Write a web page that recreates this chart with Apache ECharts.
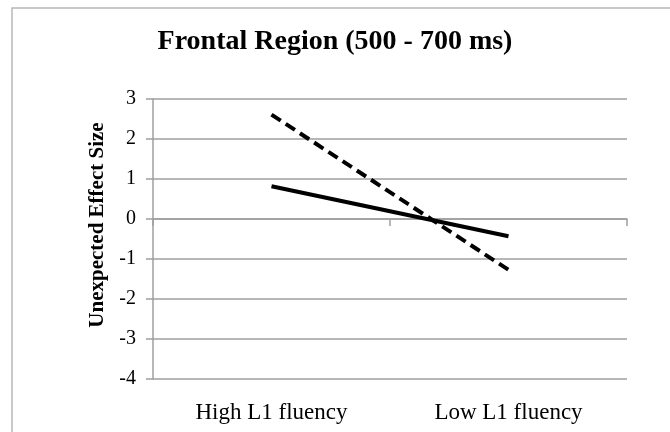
<!DOCTYPE html>
<html>
<head>
<meta charset="utf-8">
<script src="https://cdn.jsdelivr.net/npm/echarts@6/dist/echarts.min.js"></script>
<style>
  html, body { margin: 0; padding: 0; background: #fff; }
  #main { width: 670px; height: 432px; }
</style>
</head>
<body>
<div id="main"></div>
<script>
var categories = ["High L1 fluency", "Low L1 fluency"];
var dashedValues = [2.61, -1.27];
var solidValues = [0.82, -0.43];
var yTicks = { min: -4, max: 3, interval: 1 };

var myChart = echarts.init(document.getElementById("main"));
var gray = "#9f9f9f";
var serif = "Liberation Serif";

var option = {
  backgroundColor: "#fff",
  animation: false,
  // outer chart frame
  graphic: [
    {
      type: "rect",
      shape: { x: 12, y: 8, width: 700, height: 500 },
      style: { fill: "none", stroke: "#b8b8b8", lineWidth: 1.5 }
    }
  ],
  title: {
    text: "Frontal Region (500 - 700 ms)",
    left: "center",
    top: 23,
    textStyle: { fontFamily: serif, fontWeight: "bold", fontSize: 28, color: "#000" }
  },
  grid: { left: 153, right: 43, top: 99, bottom: 53 },
  xAxis: {
    type: "category",
    data: categories,
    boundaryGap: true,
    axisLine: { onZero: true, lineStyle: { color: gray, width: 1.5 } },
    axisTick: { show: true, length: 7, lineStyle: { color: gray, width: 1.5 } },
    axisLabel: {
      margin: 22,
      fontFamily: serif, fontSize: 23, color: "#000"
    }
  },
  yAxis: {
    type: "value",
    min: yTicks.min,
    max: yTicks.max,
    interval: yTicks.interval,
    name: "Unexpected Effect Size",
    nameLocation: "middle",
    nameGap: 42,
    nameTextStyle: { fontFamily: serif, fontWeight: "bold", fontSize: 21, color: "#000", padding: [0, 0, 0, 28] },
    axisLine: { show: true, lineStyle: { color: gray, width: 1.5 } },
    axisTick: { show: true, length: 7, lineStyle: { color: gray, width: 1.5 } },
    axisLabel: { margin: 17, fontFamily: serif, fontSize: 20, color: "#000" },
    splitLine: { show: true, lineStyle: { color: gray, width: 1.5 } }
  },
  series: [
    {
      name: "dashed",
      type: "line",
      data: dashedValues,
      symbol: "none",
      lineStyle: { color: "#000", width: 4, type: [11, 6] }
    },
    {
      name: "solid",
      type: "line",
      data: solidValues,
      symbol: "none",
      lineStyle: { color: "#000", width: 4 }
    }
  ]
};

myChart.setOption(option);
</script>
</body>
</html>
